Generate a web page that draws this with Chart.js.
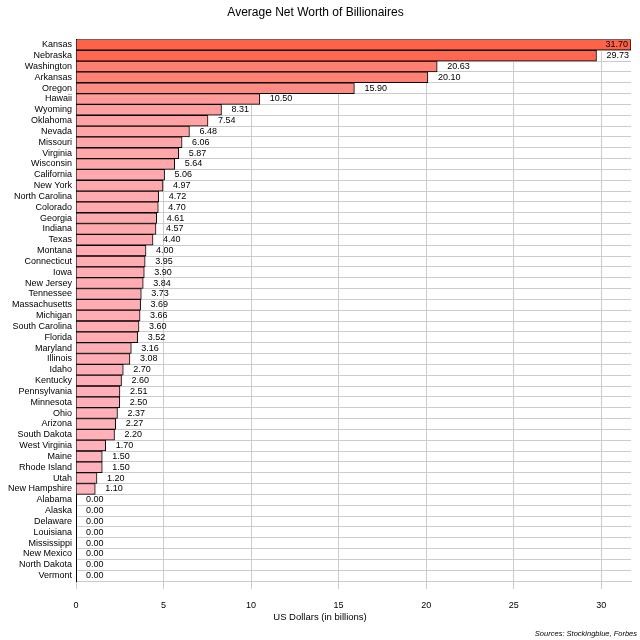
<!DOCTYPE html>
<html>
<head>
<meta charset="utf-8">
<script src="https://cdn.jsdelivr.net/npm/chart.js@4/dist/chart.umd.min.js"></script>
<style>
  html, body { margin: 0; padding: 0; background: #fff; }
  #wrap { width: 640px; height: 640px; }
</style>
</head>
<body>
<div id="wrap"><canvas id="chart" width="640" height="640"></canvas></div>
<script>
// data
const states = [
  "Kansas", "Nebraska", "Washington", "Arkansas", "Oregon", "Hawaii", "Wyoming", "Oklahoma",
  "Nevada", "Missouri", "Virginia", "Wisconsin", "California", "New York", "North Carolina",
  "Colorado", "Georgia", "Indiana", "Texas", "Montana", "Connecticut", "Iowa", "New Jersey",
  "Tennessee", "Massachusetts", "Michigan", "South Carolina", "Florida", "Maryland", "Illinois",
  "Idaho", "Kentucky", "Pennsylvania", "Minnesota", "Ohio", "Arizona", "South Dakota",
  "West Virginia", "Maine", "Rhode Island", "Utah", "New Hampshire", "Alabama", "Alaska",
  "Delaware", "Louisiana", "Mississippi", "New Mexico", "North Dakota", "Vermont"
];
const netWorth = [
  31.70, 29.73, 20.63, 20.10, 15.90, 10.50, 8.31, 7.54,
  6.48, 6.06, 5.87, 5.64, 5.06, 4.97, 4.72,
  4.70, 4.61, 4.57, 4.40, 4.00, 3.95, 3.90, 3.84,
  3.73, 3.69, 3.66, 3.60, 3.52, 3.16, 3.08,
  2.70, 2.60, 2.51, 2.50, 2.37, 2.27, 2.20,
  1.70, 1.50, 1.50, 1.20, 1.10, 0.00, 0.00,
  0.00, 0.00, 0.00, 0.00, 0.00, 0.00
];
const xTicks = [0, 5, 10, 15, 20, 25, 30];

const FONT = "'Liberation Sans', Arial, sans-serif";
const maxVal = Math.max(...netWorth);

// colour from lightpink (low) to tomato (high)
function barColor(v) {
  const t = v / maxVal;
  const g = Math.round(182 + (99 - 182) * t);
  const b = Math.round(193 + (71 - 193) * t);
  return "rgb(255," + g + "," + b + ")";
}

// value labels, axis title and source line
const labelsPlugin = {
  id: "valueLabels",
  afterDatasetsDraw(chart) {
    const ctx = chart.ctx;
    const meta = chart.getDatasetMeta(0);
    const area = chart.chartArea;
    ctx.save();
    ctx.font = "9px " + FONT;
    ctx.fillStyle = "#000";
    ctx.textBaseline = "middle";
    meta.data.forEach((bar, i) => {
      const txt = netWorth[i].toFixed(2);
      const w = ctx.measureText(txt).width;
      let x = bar.x + 10;
      if (x + w > area.right) {
        ctx.textAlign = "right";
        x = bar.x - 3;
      } else {
        ctx.textAlign = "left";
      }
      ctx.fillText(txt, x, bar.y);
    });
    // x axis title is centred on the page, not the plot
    ctx.font = "9.5px " + FONT;
    ctx.textAlign = "center";
    ctx.fillText("US Dollars (in billions)", chart.width / 2, 617);
    ctx.font = "italic 7.5px " + FONT;
    ctx.textAlign = "right";
    ctx.fillText("Sources: Stockingblue, Forbes", 637, 634);
    ctx.restore();
  }
};

new Chart(document.getElementById("chart"), {
  type: "bar",
  data: {
    labels: states,
    datasets: [{
      data: netWorth,
      backgroundColor: netWorth.map(barColor),
      borderColor: "#000",
      borderWidth: 1,
      borderSkipped: "left",
      barPercentage: 1,
      categoryPercentage: 1
    }]
  },
  options: {
    indexAxis: "y",
    responsive: false,
    animation: false,
    layout: { padding: { top: 0, right: 9, left: 0, bottom: 0 } },
    plugins: {
      legend: { display: false },
      tooltip: { enabled: false },
      title: {
        display: true,
        text: "Average Net Worth of Billionaires",
        color: "#000",
        font: { family: FONT, size: 12, weight: "normal" },
        padding: { top: 5, bottom: 20 }
      }
    },
    scales: {
      x: {
        min: 0,
        max: maxVal,
        afterBuildTicks: (s) => { s.ticks = xTicks.map(v => ({ value: v })); },
        afterFit: (s) => { s.height = 59; },
        grid: { color: "#cccccc", lineWidth: 1, tickLength: 8, drawTicks: true },
        border: { color: "#cccccc" },
        ticks: { color: "#000", font: { family: FONT, size: 9 }, padding: 11, maxRotation: 0 }
      },
      y: {
        afterFit: (s) => { s.width = 76; },
        grid: { color: "#cccccc", lineWidth: 1, drawTicks: false, offset: true },
        border: { color: "#000", width: 1 },
        ticks: { color: "#000", font: { family: FONT, size: 9 }, padding: 4, autoSkip: false }
      }
    }
  },
  plugins: [labelsPlugin]
});
</script>
</body>
</html>
